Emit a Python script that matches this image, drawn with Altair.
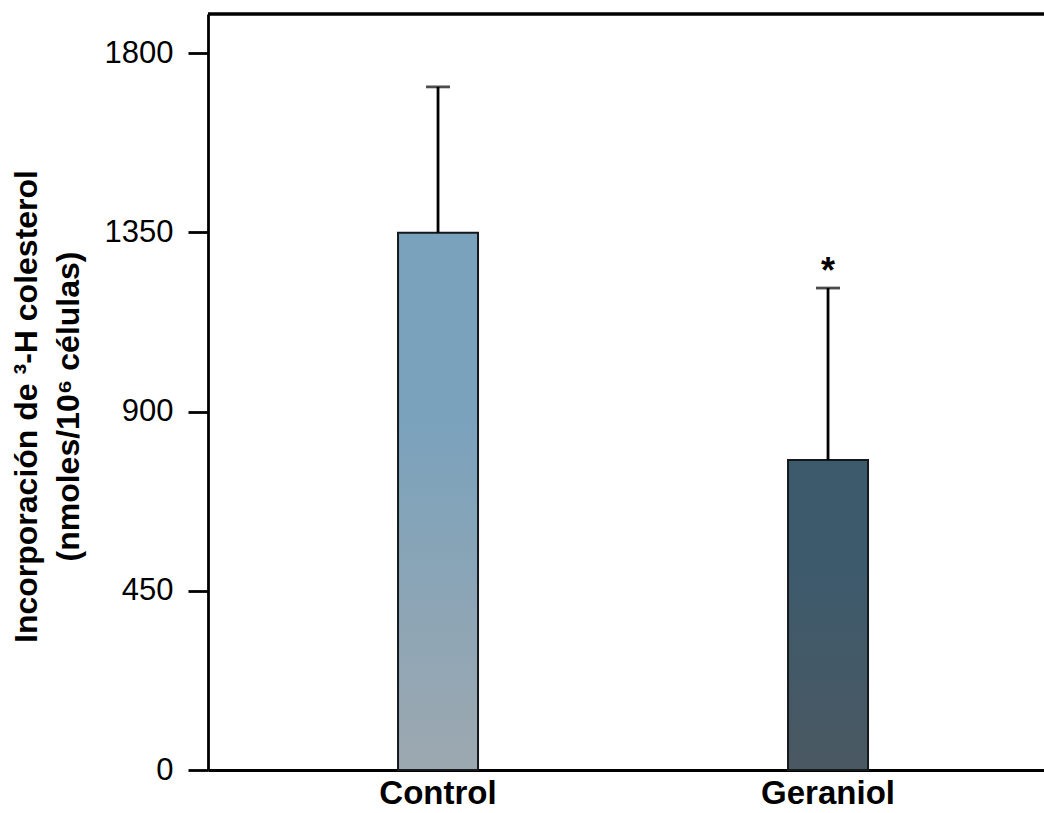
import altair as alt
import pandas as pd

groups = ["Control", "Geraniol"]
means = [1349, 778]
errors = [366, 432]
sig = ["", "*"]
y_ticks = [0, 450, 900, 1350, 1800]
y_max = 1898
grad_top = ["#7ba2bc", "#3d5a6c"]
grad_bottom = ["#9ca8b0", "#4a5862"]

df = pd.DataFrame({"group": groups, "mean": means, "err": errors, "sig": sig})
df["upper"] = df["mean"] + df["err"]

W, H = 836, 756
FONT = "Liberation Sans"

x_enc = alt.X(
    "group:N",
    sort=groups,
    scale=alt.Scale(paddingInner=0.5, paddingOuter=0.3218, align=0.528),
    axis=alt.Axis(
        title=None, labelAngle=0, labelFont=FONT, labelFontWeight="bold",
        labelFontSize=33, labelColor="black", labelPadding=7,
        ticks=False, domain=True, domainColor="black", domainWidth=2.8,
    ),
)
y_enc = alt.Y(
    "mean:Q",
    scale=alt.Scale(domain=[0, y_max], nice=False, zero=True),
    axis=alt.Axis(
        values=y_ticks, format="d", grid=False, tickSize=20, tickWidth=2.8, tickColor="black",
        domainColor="black", domainWidth=2.8,
        labelFont=FONT, labelFontSize=31, labelColor="black", labelPadding=15,
        title=["Incorporación de ³-H colesterol", "(nmoles/10⁶ células)"],
        titleFont=FONT, titleFontSize=32, titleFontWeight="bold", titleColor="black",
        titleAngle=270, titleX=-172, titleY=392, titleAlign="center",
        titleBaseline="alphabetic", titleLineHeight=42,
    ),
)

base = alt.Chart(df)

bar_layers = []
for i, g in enumerate(groups):
    grad = alt.LinearGradient(
        gradient="linear",
        stops=[alt.GradientStop(color=grad_top[i], offset=0),
               alt.GradientStop(color=grad_top[i], offset=0.35),
               alt.GradientStop(color=grad_bottom[i], offset=1)],
        x1=0, x2=0, y1=0, y2=1,
    )
    bar_layers.append(
        base.transform_filter(alt.datum.group == g)
        .mark_bar(size=80, color=grad, stroke="#15191c", strokeWidth=2)
        .encode(x=x_enc, y=y_enc)
    )

err_rule = base.mark_rule(color="black", strokeWidth=2.8).encode(
    x=x_enc, y="mean:Q", y2="upper:Q"
)
err_cap = base.mark_tick(color="black", size=24, thickness=2.8, orient="horizontal").encode(
    x=x_enc, y="upper:Q"
)
stars = base.mark_text(
    font=FONT, fontSize=36, fontWeight="bold", color="black",
    baseline="middle", dy=-16,
).encode(x=x_enc, y="upper:Q", text="sig:N")

top_border = alt.Chart(df).mark_rule(color="black", strokeWidth=2.8).encode(
    y=alt.value(0), x=alt.value(0), x2=alt.value(W)
)

chart = alt.layer(*bar_layers, err_rule, err_cap, stars, top_border).properties(
    width=W, height=H,
    autosize=alt.AutoSizeParams(type="none"),
    padding={"left": 208, "top": 14, "right": 0, "bottom": 43},
).configure_view(stroke=None).configure(background="white")

chart.save("out.html", embed_options={"renderer": "svg", "actions": False})
